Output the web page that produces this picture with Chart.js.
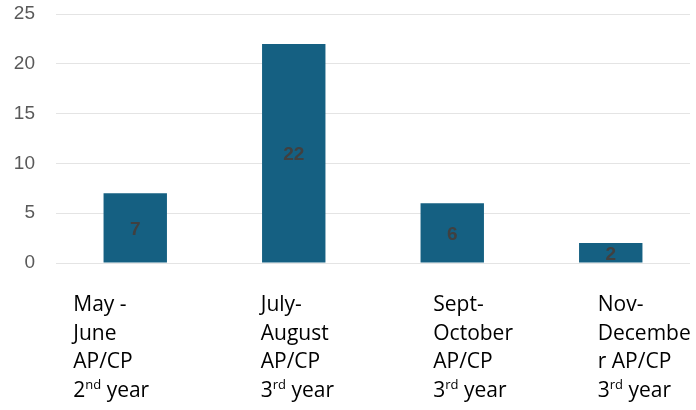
<!DOCTYPE html>
<html>
<head>
<meta charset="utf-8">
<script src="https://cdn.jsdelivr.net/npm/chart.js@4.4.1/dist/chart.umd.min.js"></script>
<style>
  html, body { margin: 0; padding: 0; background: #fff; }
  #wrap { width: 696px; height: 410px; }
</style>
</head>
<body>
<div id="wrap"><canvas id="chart"></canvas></div>
<script>
// categories, one line per entry; {..} marks superscript text
const categories = [
    ['May -', 'June', 'AP/CP', '2{nd} year'],
    ['July-', 'August', 'AP/CP', '3{rd} year'],
    ['Sept-', 'October', 'AP/CP', '3{rd} year'],
    ['Nov-', 'Decembe', 'r AP/CP', '3{rd} year']
];
const counts = [7, 22, 6, 2];
const yTicks = [0, 5, 10, 15, 20, 25];

// horizontal shift of each label block from its category centre (layout only)
const labelShift = [-62, -33, -19, -13];

const labelFont = '"Open Sans", "Liberation Sans", sans-serif';

const barValueLabels = {
    id: 'barValueLabels',
    afterDatasetsDraw(chart) {
        const ctx = chart.ctx;
        const meta = chart.getDatasetMeta(0);
        ctx.save();
        ctx.fillStyle = '#404040';
        ctx.font = 'bold 19px "Liberation Sans", Arial, sans-serif';
        ctx.textAlign = 'center';
        ctx.textBaseline = 'middle';
        meta.data.forEach((bar, i) => {
            const mid = (bar.y + bar.base) / 2;
            ctx.fillText(String(counts[i]), bar.x, mid + 2);
        });
        ctx.restore();
    }
};

const categoryLabels = {
    id: 'categoryLabels',
    afterDraw(chart) {
        const ctx = chart.ctx;
        const xScale = chart.scales.x;
        const top = chart.chartArea.bottom + 48;
        const lineHeight = 28.5;
        ctx.save();
        ctx.fillStyle = '#000000';
        ctx.textBaseline = 'alphabetic';
        ctx.textAlign = 'left';
        categories.forEach((lines, i) => {
            const x0 = xScale.getPixelForValue(i) + labelShift[i];
            lines.forEach((line, j) => {
                const y = top + j * lineHeight;
                let x = x0;
                const parts = line.split(/(\{[^}]*\})/).filter(p => p.length);
                parts.forEach(part => {
                    if (part.startsWith('{')) {
                        const txt = part.slice(1, -1);
                        ctx.font = '13px ' + labelFont;
                        ctx.fillText(txt, x, y - 8);
                        x += ctx.measureText(txt).width;
                    } else {
                        ctx.font = '21px ' + labelFont;
                        ctx.fillText(part, x, y);
                        x += ctx.measureText(part).width;
                    }
                });
            });
        });
        ctx.restore();
    }
};

new Chart(document.getElementById('chart'), {
    type: 'bar',
    data: {
        labels: categories.map(c => c.join(' ')),
        datasets: [{
            data: counts,
            backgroundColor: '#156082',
            borderWidth: 0,
            barPercentage: 0.4,
            categoryPercentage: 1.0
        }]
    },
    options: {
        responsive: true,
        maintainAspectRatio: false,
        animation: false,
        layout: { padding: { top: 14, right: 6, bottom: 147, left: 0 } },
        plugins: {
            legend: { display: false },
            tooltip: { enabled: false }
        },
        scales: {
            x: {
                display: false
            },
            y: {
                min: 0,
                max: 25,
                afterBuildTicks(scale) {
                    scale.ticks = yTicks.map(v => ({ value: v }));
                },
                afterFit(scale) {
                    scale.width = 56;
                    scale.paddingTop = 0;
                    scale.paddingBottom = 0;
                },
                border: { display: false },
                grid: { color: '#e4e4e4', lineWidth: 1, drawTicks: false },
                ticks: {
                    padding: 21,
                    color: '#595959',
                    font: { family: '"Liberation Sans", Arial, sans-serif', size: 19 }
                }
            }
        }
    },
    plugins: [barValueLabels, categoryLabels]
});
</script>
</body>
</html>
